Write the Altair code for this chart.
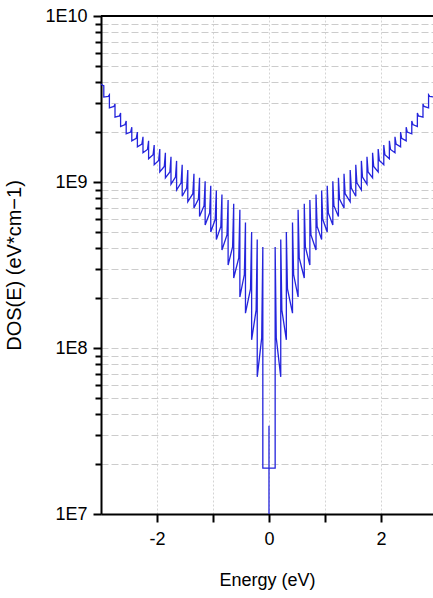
import altair as alt
import pandas as pd

# Subband (van Hove) energies, eV (mirrored for negative energies)
e_sub = [0.11, 0.21, 0.31, 0.42, 0.52, 0.63, 0.73, 0.84, 0.94, 1.04, 1.14, 1.24, 1.34, 1.45, 1.55,
         1.65, 1.75, 1.85, 1.95, 2.05, 2.15, 2.25, 2.35, 2.45, 2.55, 2.65, 2.75, 2.85, 2.95]
# DOS at top of each spike
dos_peak = [4.06e8, 4.5e8, 5.0e8, 5.7e8, 6.8e8, 7.4e8, 7.8e8, 8.4e8, 8.9e8, 9.5e8, 1.01e9, 1.06e9,
            1.12e9, 1.18e9, 1.27e9, 1.34e9, 1.42e9, 1.50e9, 1.58e9, 1.67e9, 1.77e9, 1.87e9, 2.0e9,
            2.14e9, 2.33e9, 2.6e9, 2.95e9, 3.35e9, 3.8e9]
# DOS at the base of each spike (just after the fast decay)
dos_knee = [1.15e8, 1.69e8, 2.27e8, 2.77e8, 3.49e8, 4.06e8, 4.8e8, 5.4e8, 5.96e8, 6.5e8, 7.2e8, 7.9e8,
            8.5e8, 9.2e8, 9.9e8, 1.07e9, 1.15e9, 1.24e9, 1.35e9, 1.46e9, 1.57e9, 1.69e9, 1.83e9,
            2.0e9, 2.22e9, 2.5e9, 2.85e9, 3.28e9, 3.82e9]
# DOS at the trough just before the next spike (last one: band edge at 3 eV)
dos_floor = [6.7e7, 1.12e8, 1.62e8, 2.03e8, 2.64e8, 3.16e8, 3.89e8, 4.5e8, 5.0e8, 5.5e8, 6.2e8,
             6.97e8, 7.6e8, 8.2e8, 8.95e8, 9.7e8, 1.06e9, 1.15e9, 1.27e9, 1.38e9, 1.50e9, 1.63e9,
             1.77e9, 1.95e9, 2.16e9, 2.46e9, 2.8e9, 3.25e9, 3.9e9]
# Gap region around E = 0
gap_level = 1.89e7
center_spike = [1.0e7, 3.4e7]
band_edge = 3.0
knee_offset = 0.02

# Build the path (positive side), then mirror
pos = []
for i, e in enumerate(e_sub):
    before = gap_level if i == 0 else dos_floor[i - 1]
    nxt = e_sub[i + 1] if i + 1 < len(e_sub) else band_edge
    pos += [(e, before), (e, dos_peak[i]), (e + knee_offset, dos_knee[i]), (nxt, dos_floor[i])]
center = [(0.0, gap_level), (0.0, center_spike[0]), (0.0, center_spike[1]), (0.0, gap_level)]
neg = [(-e, v) for (e, v) in reversed(pos)]
pts = neg + center + pos
df = pd.DataFrame({"E": [p[0] for p in pts], "DOS": [p[1] for p in pts], "o": list(range(len(pts)))})

W, H = 332, 498
FONT = "Liberation Sans"

yticks = [m * d for d in [1e7, 1e8, 1e9] for m in range(1, 10)] + [1e10]
is_decade = "indexof([10000000,100000000,1000000000,10000000000], datum.value) >= 0"

line = alt.Chart(df).mark_line(color="#2424dc", strokeWidth=1.3, clip=True).encode(
    x=alt.X("E:Q", scale=alt.Scale(domain=[-3, 2.929], nice=False, zero=False),
            axis=alt.Axis(values=[-2, -1, 0, 1, 2], title="Energy (eV)",
                          labelExpr="datum.value % 2 == 0 ? '' + datum.value : ''",
                          grid=True, gridColor="#d4d4d4", gridDash=[2, 2], gridWidth=1,
                          domainColor="black", domainWidth=2, tickColor="black", tickWidth=2,
                          tickSize=8, labelFont=FONT, labelFontSize=18, labelColor="black",
                          labelPadding=8, titleFont=FONT, titleFontSize=18,
                          titleFontWeight="normal", titleColor="black", titlePadding=23)),
    y=alt.Y("DOS:Q", scale=alt.Scale(type="log", domain=[1e7, 1e10], nice=False),
            axis=alt.Axis(values=yticks, title="DOS(E) (eV*cm−1)",
                          labelExpr=is_decade + " ? '1E' + round(log(datum.value)/LN10) : ''",
                          grid=True, gridColor="#cccccc", gridDash=[7, 3], gridWidth=1,
                          domainColor="black", domainWidth=2, tickColor="black", tickWidth=2,
                          tickSize={"condition": {"test": is_decade, "value": 8}, "value": 6},
                          labelFont=FONT, labelFontSize=18, labelColor="black", labelPadding=6,
                          titleFont=FONT, titleFontSize=20, titleFontWeight="normal",
                          titleColor="black", titlePadding=20)),
    order="o:Q",
)

top = alt.Chart(alt.Data(values=[{}])).mark_rule(color="black", strokeWidth=2).encode(
    x=alt.value(0), x2=alt.value(W), y=alt.value(0)
)

chart = alt.layer(line, top).properties(
    width=W, height=H,
    autosize=alt.AutoSizeParams(type="none"),
    padding={"left": 101, "top": 16, "right": 0, "bottom": 84},
).configure_view(stroke=None).configure(background="white")

chart.save("out.html", embed_options={"renderer": "svg", "actions": False})
